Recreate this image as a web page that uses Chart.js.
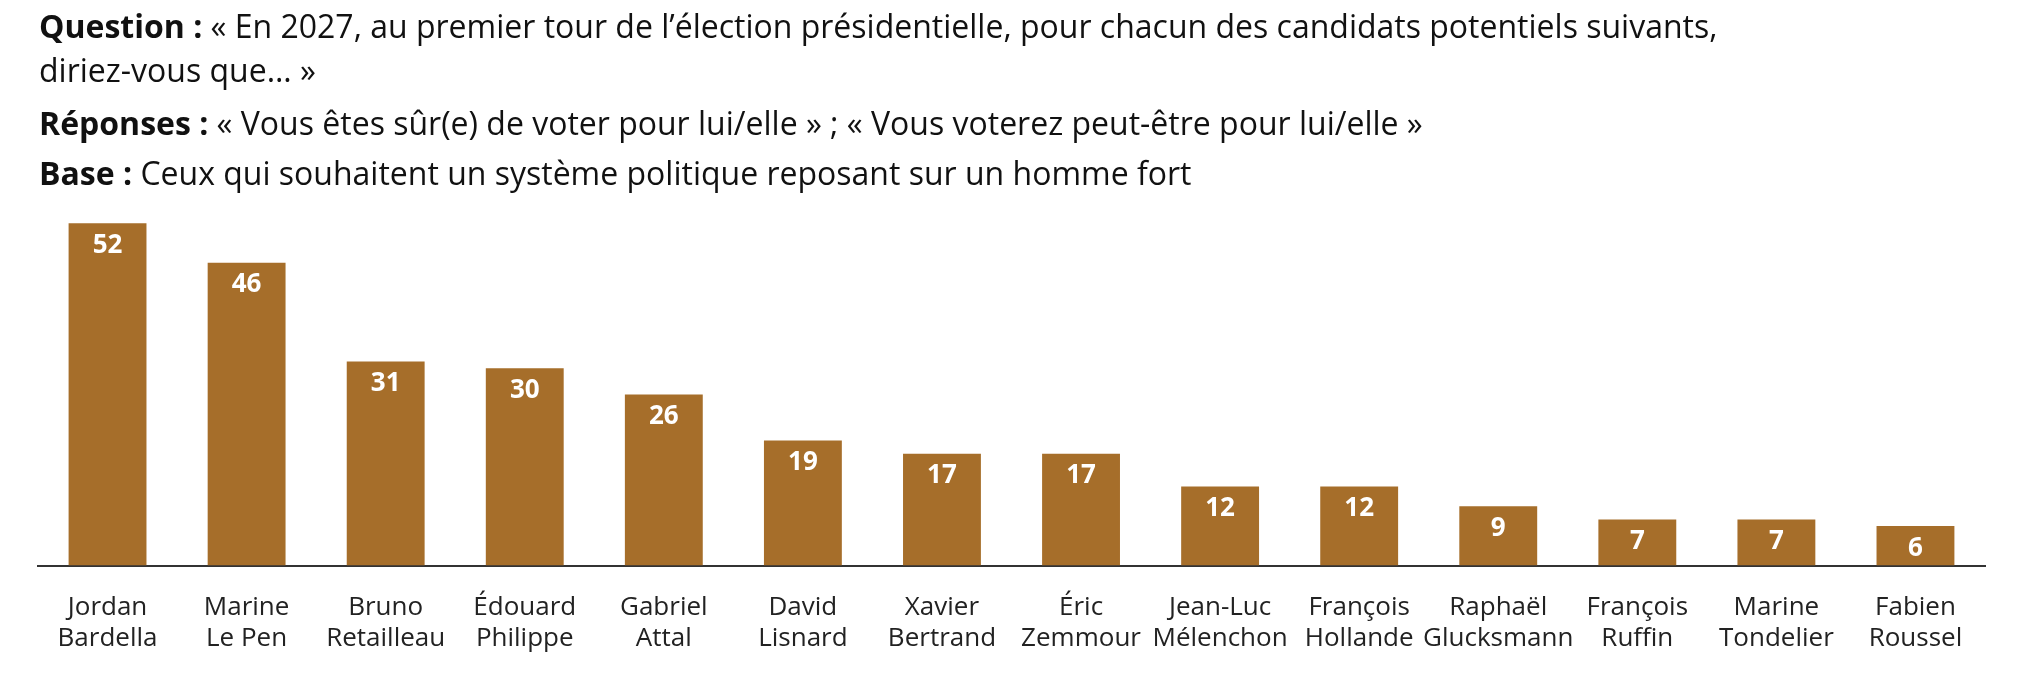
<!DOCTYPE html>
<html><head><meta charset="utf-8">
<script src="https://cdn.jsdelivr.net/npm/chart.js@4"></script>
<style>html,body{margin:0;padding:0;background:#fff}#wrap{width:2038px;height:684px;position:relative}</style>
</head><body>
<div id="wrap"><canvas id="barChart"></canvas></div>
<script>
var labels = [["Jordan","Bardella"],["Marine","Le Pen"],["Bruno","Retailleau"],["Édouard","Philippe"],["Gabriel","Attal"],["David","Lisnard"],["Xavier","Bertrand"],["Éric","Zemmour"],["Jean-Luc","Mélenchon"],["François","Hollande"],["Raphaël","Glucksmann"],["François","Ruffin"],["Marine","Tondelier"],["Fabien","Roussel"]];
var values = [52, 46, 31, 30, 26, 19, 17, 17, 12, 12, 9, 7, 7, 6];
var titleLines = [
  ["Question : ", "« En 2027, au premier tour de l’élection présidentielle, pour chacun des candidats potentiels suivants,"],
  ["", "diriez-vous que… »"],
  ["Réponses : ", "« Vous êtes sûr(e) de voter pour lui/elle » ; « Vous voterez peut-être pour lui/elle »"],
  ["Base : ", "Ceux qui souhaitent un système politique reposant sur un homme fort"]
];
var FONT = "'Open Sans', sans-serif";

var headerPlugin = {
  id: 'header',
  afterDraw: function (chart) {
    var c = chart.ctx, ys = [29, 73, 126, 176];
    c.save();
    c.textBaseline = 'middle';
    c.fillStyle = '#111';
    titleLines.forEach(function (l, i) {
      var x = 39;
      c.font = 'bold 32px ' + FONT;
      c.fillText(l[0], x, ys[i]);
      x += c.measureText(l[0]).width;
      c.font = '32px ' + FONT;
      c.fillText(l[1], x, ys[i]);
    });
    var meta = chart.getDatasetMeta(0);
    c.font = 'bold 26px ' + FONT;
    c.fillStyle = '#fff';
    c.textAlign = 'center';
    meta.data.forEach(function (bar, i) {
      c.fillText(values[i], bar.x, bar.y + 22);
    });
    c.restore();
  }
};

var ctx = document.getElementById("barChart").getContext("2d");
new Chart(ctx, {
  type: 'bar',
  data: {
    labels: labels,
    datasets: [{ data: values, backgroundColor: '#a66e2a', barPercentage: 0.56, categoryPercentage: 1 }]
  },
  options: {
    responsive: true,
    maintainAspectRatio: false,
    animation: false,
    layout: { padding: { left: 38, right: 53, top: 197, bottom: 4 } },
    plugins: { legend: { display: false }, tooltip: { enabled: false } },
    scales: {
      x: {
        grid: { display: false, drawTicks: false },
        border: { color: '#333', width: 2 },
        ticks: { color: '#222', font: { family: FONT, size: 26 }, padding: 26, maxRotation: 0, autoSkip: false }
      },
      y: { display: false, min: 0, max: 56 }
    }
  },
  plugins: [headerPlugin]
});
</script>
</body></html>
